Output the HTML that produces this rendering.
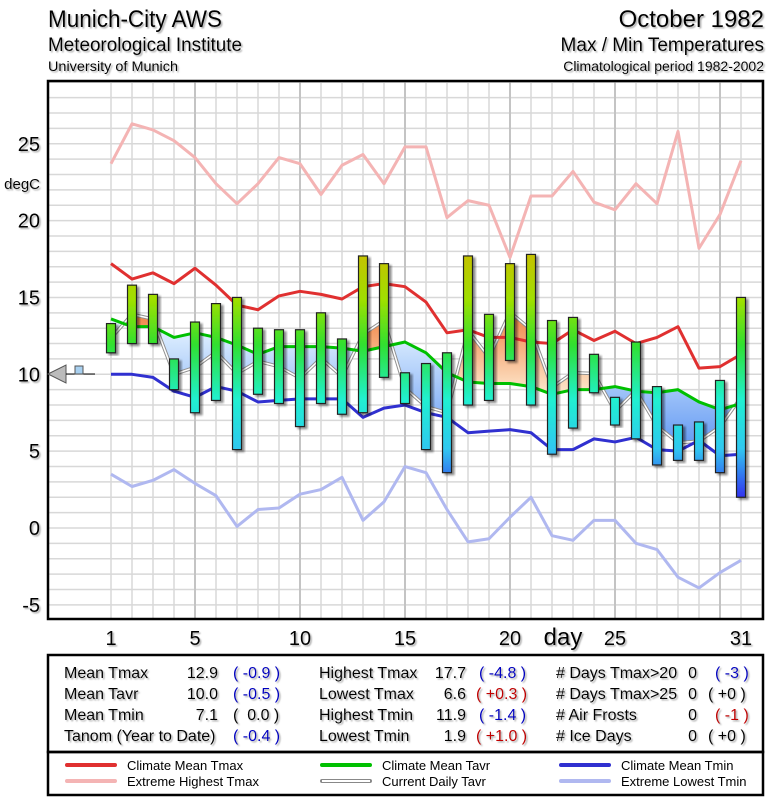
<!DOCTYPE html>
<html><head><meta charset="utf-8">
<style>
body{margin:0;background:#fff;width:775px;height:800px;overflow:hidden;font-family:"Liberation Sans",sans-serif}
svg text{font-family:"Liberation Sans",sans-serif}
</style></head><body>
<svg id="c" width="775" height="800" xmlns="http://www.w3.org/2000/svg">
<defs>
<filter id="ts" x="-10%" y="-10%" width="130%" height="140%"><feDropShadow dx="1.5" dy="1.5" stdDeviation="0.8" flood-color="#999" flood-opacity="0.8"/></filter>
<filter id="bs" x="-50%" y="-10%" width="200%" height="120%"><feDropShadow dx="2.5" dy="2" stdDeviation="1" flood-color="#000" flood-opacity="0.45"/></filter>
<linearGradient id="barg" gradientUnits="userSpaceOnUse" x1="0" y1="251" x2="0" y2="498">
<stop offset="0" stop-color="#c8bf00"/><stop offset="0.2" stop-color="#9ee000"/><stop offset="0.38" stop-color="#30e030"/><stop offset="0.6" stop-color="#20f0d0"/><stop offset="0.8" stop-color="#30c8f0"/><stop offset="1" stop-color="#3030f0"/>
</linearGradient>
<linearGradient id="blueFill" gradientUnits="userSpaceOnUse" x1="0" y1="330" x2="0" y2="470"><stop offset="0" stop-color="#e0f0ff"/><stop offset="1" stop-color="#4a88f0"/></linearGradient>
<linearGradient id="orgFill" gradientUnits="userSpaceOnUse" x1="0" y1="310" x2="0" y2="400"><stop offset="0" stop-color="#f08040"/><stop offset="1" stop-color="#fff0d8"/></linearGradient>
<clipPath id="below"><polygon id="clipBelow" points=""/></clipPath>
<clipPath id="above"><polygon id="clipAbove" points=""/></clipPath>
</defs>
<text x="48" y="27" font-size="24" textLength="174" lengthAdjust="spacingAndGlyphs" filter="url(#ts)">Munich-City AWS</text>
<text x="48" y="51" font-size="19" textLength="194" lengthAdjust="spacingAndGlyphs" filter="url(#ts)">Meteorological Institute</text>
<text x="48" y="71" font-size="14" textLength="130" lengthAdjust="spacingAndGlyphs" filter="url(#ts)">University of Munich</text>
<text x="764" y="27" font-size="24" text-anchor="end" filter="url(#ts)">October 1982</text>
<text x="764" y="51" font-size="19" text-anchor="end" filter="url(#ts)">Max / Min Temperatures</text>
<text x="764" y="71" font-size="14" text-anchor="end" filter="url(#ts)">Climatological period 1982-2002</text>
<g id="grid"></g>
<g id="fills"></g>
<g id="lines"></g>
<g id="bars"></g>
<g id="axes"></g>
<rect x="48" y="81" width="715" height="538" fill="none" stroke="#000" stroke-width="2.5"/>
<g>
<polygon points="48,374 66,365 66,383" fill="#bbb" stroke="#555" stroke-width="1"/>
<line x1="66" y1="374" x2="95" y2="374" stroke="#000" stroke-width="1"/>
<rect x="75" y="366" width="8" height="8" fill="#a8d0f0" stroke="#555" stroke-width="1"/>
</g>
<g>
<rect x="48" y="655" width="715" height="97" fill="none" stroke="#000" stroke-width="2.5"/>
<rect x="48" y="752" width="715" height="43" fill="none" stroke="#000" stroke-width="2.5"/>
<g font-size="16" filter="url(#ts)">
<text x="64" y="678">Mean Tmax</text><text x="218" y="678" text-anchor="end">12.9</text><text x="233" y="678" fill="#0000c0">( -0.9 )</text>
<text x="64" y="699">Mean Tavr</text><text x="218" y="699" text-anchor="end">10.0</text><text x="233" y="699" fill="#0000c0">( -0.5 )</text>
<text x="64" y="720">Mean Tmin</text><text x="218" y="720" text-anchor="end">7.1</text><text x="233" y="720">(&#160; 0.0 )</text>
<text x="64" y="741">Tanom (Year to Date)</text><text x="233" y="741" fill="#0000c0">( -0.4 )</text>
<text x="319" y="678">Highest Tmax</text><text x="466" y="678" text-anchor="end">17.7</text><text x="479" y="678" fill="#0000c0">( -4.8 )</text>
<text x="319" y="699">Lowest Tmax</text><text x="466" y="699" text-anchor="end">6.6</text><text x="476" y="699" fill="#c00000">( +0.3 )</text>
<text x="319" y="720">Highest Tmin</text><text x="466" y="720" text-anchor="end">11.9</text><text x="479" y="720" fill="#0000c0">( -1.4 )</text>
<text x="319" y="741">Lowest Tmin</text><text x="466" y="741" text-anchor="end">1.9</text><text x="476" y="741" fill="#c00000">( +1.0 )</text>
<text x="556" y="678"># Days Tmax&gt;20</text><text x="697" y="678" text-anchor="end">0</text><text x="715" y="678" fill="#0000c0">( -3 )</text>
<text x="556" y="699"># Days Tmax&gt;25</text><text x="697" y="699" text-anchor="end">0</text><text x="708" y="699">( +0 )</text>
<text x="556" y="720"># Air Frosts</text><text x="697" y="720" text-anchor="end">0</text><text x="715" y="720" fill="#c00000">( -1 )</text>
<text x="556" y="741"># Ice Days</text><text x="697" y="741" text-anchor="end">0</text><text x="708" y="741">( +0 )</text>
</g>
</g>
<g font-size="13">
<g><line x1="67" y1="765" x2="115" y2="765" stroke="#e03030" stroke-width="4" stroke-linecap="round"/><text x="127" y="770">Climate Mean Tmax</text></g>
<g><line x1="67" y1="781" x2="115" y2="781" stroke="#f4b4b4" stroke-width="4" stroke-linecap="round"/><text x="127" y="786">Extreme Highest Tmax</text></g>
<g><line x1="322" y1="765" x2="370" y2="765" stroke="#00c000" stroke-width="4" stroke-linecap="round"/><text x="382" y="770">Climate Mean Tavr</text></g>
<g><line x1="322" y1="781" x2="370" y2="781" stroke="#888" stroke-width="4" stroke-linecap="round"/><line x1="322" y1="781" x2="370" y2="781" stroke="#fff" stroke-width="2"/><text x="382" y="786">Current Daily Tavr</text></g>
<g><line x1="561" y1="765" x2="609" y2="765" stroke="#3030d0" stroke-width="4" stroke-linecap="round"/><text x="621" y="770">Climate Mean Tmin</text></g>
<g><line x1="561" y1="781" x2="609" y2="781" stroke="#b0b8f0" stroke-width="4" stroke-linecap="round"/><text x="621" y="786">Extreme Lowest Tmin</text></g>
</g>
</svg>
<script>
const days = Array.from({length:31},(_,i)=>i+1);
const yTicks = [25,20,15,10,5,0,-5];
const xTickLabels = [1,5,10,15,20,25,31];
const tmax = [13.3,15.8,15.2,11.0,13.4,14.6,15.0,13.0,12.9,12.9,14.0,12.3,17.7,17.2,10.1,10.7,11.4,17.7,13.9,17.2,17.8,13.5,13.7,11.3,8.5,12.1,9.2,6.7,6.9,9.6,15.0];
const tmin = [11.4,12.0,12.0,9.0,7.5,8.3,5.1,8.7,8.1,6.6,8.1,7.4,7.5,9.8,8.1,5.1,3.6,8.0,8.3,10.9,8.0,4.8,6.5,8.8,6.7,5.8,4.1,4.4,4.4,3.6,2.0];
const climTmax = [17.2,16.2,16.6,15.9,16.9,15.8,14.5,14.2,15.1,15.4,15.2,14.9,15.7,15.9,15.7,14.7,12.7,12.9,12.4,12.4,12.1,12.0,12.9,12.2,12.8,12.0,12.4,13.1,10.4,10.5,11.3];
const climTavr = [13.6,13.1,13.1,12.4,12.7,12.4,11.9,11.3,11.8,11.8,11.8,11.7,11.5,11.8,12.1,11.4,10.1,9.5,9.4,9.4,9.2,8.7,9.0,9.0,9.2,8.9,8.8,9.0,8.2,7.7,8.1];
const climTmin = [10.0,10.0,9.8,8.9,8.5,9.2,8.9,8.2,8.3,8.4,8.4,8.4,7.2,7.8,8.0,7.5,7.2,6.2,6.3,6.4,6.2,5.1,5.1,5.8,5.6,5.9,5.1,5.0,5.7,4.7,4.8];
const extMax = [23.7,26.3,25.9,25.2,24.1,22.4,21.1,22.4,24.1,23.7,21.7,23.6,24.3,22.4,24.8,24.8,20.2,21.3,21.0,17.6,21.6,21.6,23.2,21.2,20.7,22.4,21.1,25.8,18.2,20.4,23.9];
const extMin = [3.5,2.7,3.1,3.8,2.9,2.1,0.1,1.2,1.3,2.2,2.5,3.3,0.5,1.7,4.0,3.6,1.2,-0.9,-0.7,0.7,2.0,-0.5,-0.8,0.5,0.5,-1.0,-1.4,-3.2,-3.9,-2.9,-2.1];

const NS='http://www.w3.org/2000/svg';
const X = d => 111 + (d-1)*21;
const Y = v => 528 - v*15.37;
function mk(tag, attrs, parent){const e=document.createElementNS(NS,tag);for(const k in attrs)e.setAttribute(k,attrs[k]);parent.appendChild(e);return e;}
const grid=document.getElementById('grid'), axes=document.getElementById('axes');
for(let v=-6; v<=29; v++){const y=Y(v); if(y<82||y>618)continue;
  const l=mk('line',{x1:48,x2:763,y1:y,y2:y,stroke:'#d8d8d8','stroke-width':1.5},grid);
  
  }
for(let d=1; d<=32; d++){const x=X(d); if(x>762)continue;
  const l=mk('line',{x1:x,x2:x,y1:82,y2:618,stroke:d%5===0?'#c4c4c4':'#d8d8d8','stroke-width':d%5===0?2:1.5},grid);
  
  }
yTicks.forEach(v=>{const t=mk('text',{x:40,y:Y(v)+7,'font-size':20,'text-anchor':'end',filter:'url(#ts)'},axes);t.textContent=v;
  
  });
const yt=mk('text',{x:40,y:189,'font-size':15,'text-anchor':'end',filter:'url(#ts)'},axes);yt.textContent='degC';


xTickLabels.forEach(d=>{const t=mk('text',{x:X(d),y:645,'font-size':20,'text-anchor':'middle',filter:'url(#ts)'},axes);t.textContent=d;
  
  });
const xt=mk('text',{x:563,y:645,'font-size':24,'text-anchor':'middle',filter:'url(#ts)'},axes);xt.textContent='day';



const tavr = days.map((d,i)=>(tmax[i]+tmin[i])/2);
const pts = arr => days.map((d,i)=>X(d)+','+Y(arr[i])).join(' ');
const climPts = days.map((d,i)=>[X(d),Y(climTavr[i])]);
document.getElementById('clipBelow').setAttribute('points', climPts.map(p=>p.join(',')).join(' ')+` ${X(31)},620 ${X(1)},620`);
document.getElementById('clipAbove').setAttribute('points', climPts.map(p=>p.join(',')).join(' ')+` ${X(31)},80 ${X(1)},80`);
const fills=document.getElementById('fills');
const poly = pts(tavr)+' '+days.slice().reverse().map(d=>X(d)+','+Y(climTavr[d-1])).join(' ');
const fb=mk('polygon',{points:poly,fill:'url(#blueFill)','clip-path':'url(#below)'},fills);


const fo=mk('polygon',{points:poly,fill:'url(#orgFill)','clip-path':'url(#above)'},fills);



const lines=document.getElementById('lines');
function line(arr,color,w,name){const p=mk('polyline',{points:pts(arr),fill:'none',stroke:color,'stroke-width':w,'stroke-linejoin':'round'},lines);
  
  return p;}
line(extMax,'#f4b4b4',3,'extreme-highest-tmax-line');
line(extMin,'#b0b8f0',3,'extreme-lowest-tmin-line');
line(tavr,'#909090',3.5,'current-daily-tavr-line');
const tw=mk('polyline',{points:pts(tavr),fill:'none',stroke:'#fff','stroke-width':1.5},lines);


line(climTmax,'#e03030',3,'climate-mean-tmax-line');
line(climTavr,'#00c000',3,'climate-mean-tavr-line');
line(climTmin,'#3030d0',3,'climate-mean-tmin-line');

const bars=document.getElementById('bars');
days.forEach((d,i)=>{const y1=Y(tmax[i]),y2=Y(tmin[i]);
  const r=mk('rect',{x:X(d)-4.5,y:y1,width:9,height:y2-y1,fill:'url(#barg)',stroke:'#222','stroke-width':1.2,filter:'url(#bs)'},bars);
  
  });
</script>
</body></html>
